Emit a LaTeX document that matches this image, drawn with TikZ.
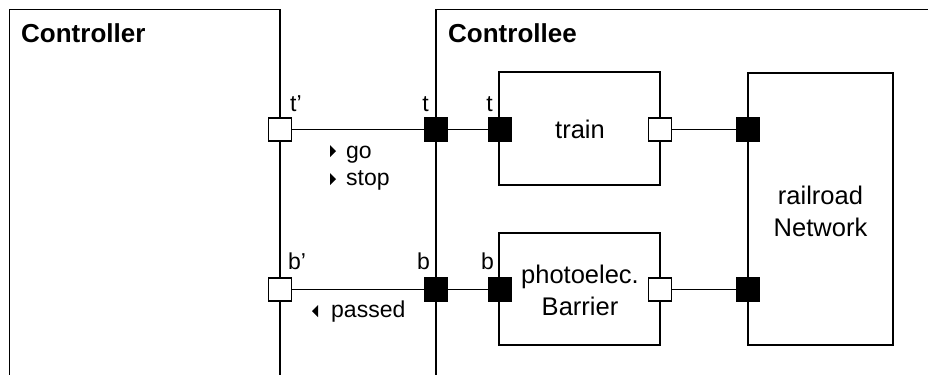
\documentclass[tikz,border=0pt]{standalone}
\usepackage{fontspec}
\setmainfont{Liberation Sans}
\begin{document}
\begin{tikzpicture}[x=1bp,y=-1bp,
  lw/.style={line width=1.9bp,draw=black},
  openport/.style={draw=black,line width=1.9bp,fill=white,minimum size=23bp,inner sep=0pt,outer sep=0pt,rectangle},
  fullport/.style={draw=black,line width=1.9bp,fill=black,minimum size=23bp,inner sep=0pt,outer sep=0pt,rectangle},
  body/.style={font=\fontsize{25.5bp}{32bp}\selectfont,align=center,inner sep=0pt},
  title/.style={font=\fontsize{26bp}{30bp}\selectfont\bfseries,inner sep=0pt,anchor=base west},
  lbl/.style={font=\fontsize{23bp}{27bp}\selectfont,inner sep=0pt},
  tri/.style={fill=black,draw=none}
]
\useasboundingbox (0,0) rectangle (928,374);
% outer boxes (cut by the picture edges)
\draw[lw] (9.5,380) -- (9.5,9.5) -- (280,9.5) -- (280,380);
\draw[lw] (436,380) -- (436,9.5) -- (935,9.5);
\node[title] (ctlr) at (21,42) {Controller};
\node[title] (ctle) at (448,42) {Controllee};
% inner boxes
\draw[lw] (499,72) rectangle (660,185);
\draw[lw] (499,233) rectangle (660,345);
\draw[lw] (748,73) rectangle (893,345);
\node[body] (train) at (580,129) {train};
\node[body] (barrier) at (580,290) {photoelec.\\Barrier};
\node[body] (network) at (820.5,211) {railroad\\Network};
% ports
\node[openport] (tp) at (280,129.5) {};
\node[fullport] (tc) at (436,129.5) {};
\node[fullport] (tt) at (500,129.5) {};
\node[openport] (to) at (660,129.5) {};
\node[fullport] (nt) at (748,129.5) {};
\node[openport] (bp) at (280,289.5) {};
\node[fullport] (bc) at (436,289.5) {};
\node[fullport] (bb) at (500,289.5) {};
\node[openport] (bo) at (660,289.5) {};
\node[fullport] (nb) at (748,289.5) {};
% connectors
\draw[lw] (tp) -- (tc);
\draw[lw] (tc) -- (tt);
\draw[lw] (to) -- (nt);
\draw[lw] (bp) -- (bc);
\draw[lw] (bc) -- (bb);
\draw[lw] (bo) -- (nb);
% port labels
\node[lbl,anchor=base west] (ltp) at (290,111) {t’};
\node[lbl,anchor=base east] (ltc) at (429,111) {t};
\node[lbl,anchor=base east] (ltt) at (493,111) {t};
\node[lbl,anchor=base west] (lbp) at (288,269) {b’};
\node[lbl,anchor=base east] (lbc) at (430,269) {b};
\node[lbl,anchor=base east] (lbb) at (494,269) {b};
% message labels
\fill[tri] (330,145) -- (330,157) -- (336,151) -- cycle;
\node[lbl,anchor=base west] (go) at (346,158) {go};
\fill[tri] (330,173) -- (330,185) -- (336,179) -- cycle;
\node[lbl,anchor=base west] (stop) at (346,185) {stop};
\fill[tri] (318,305) -- (318,317) -- (312,311) -- cycle;
\node[lbl,anchor=base west] (passed) at (331,317) {passed};
\end{tikzpicture}
\end{document}
